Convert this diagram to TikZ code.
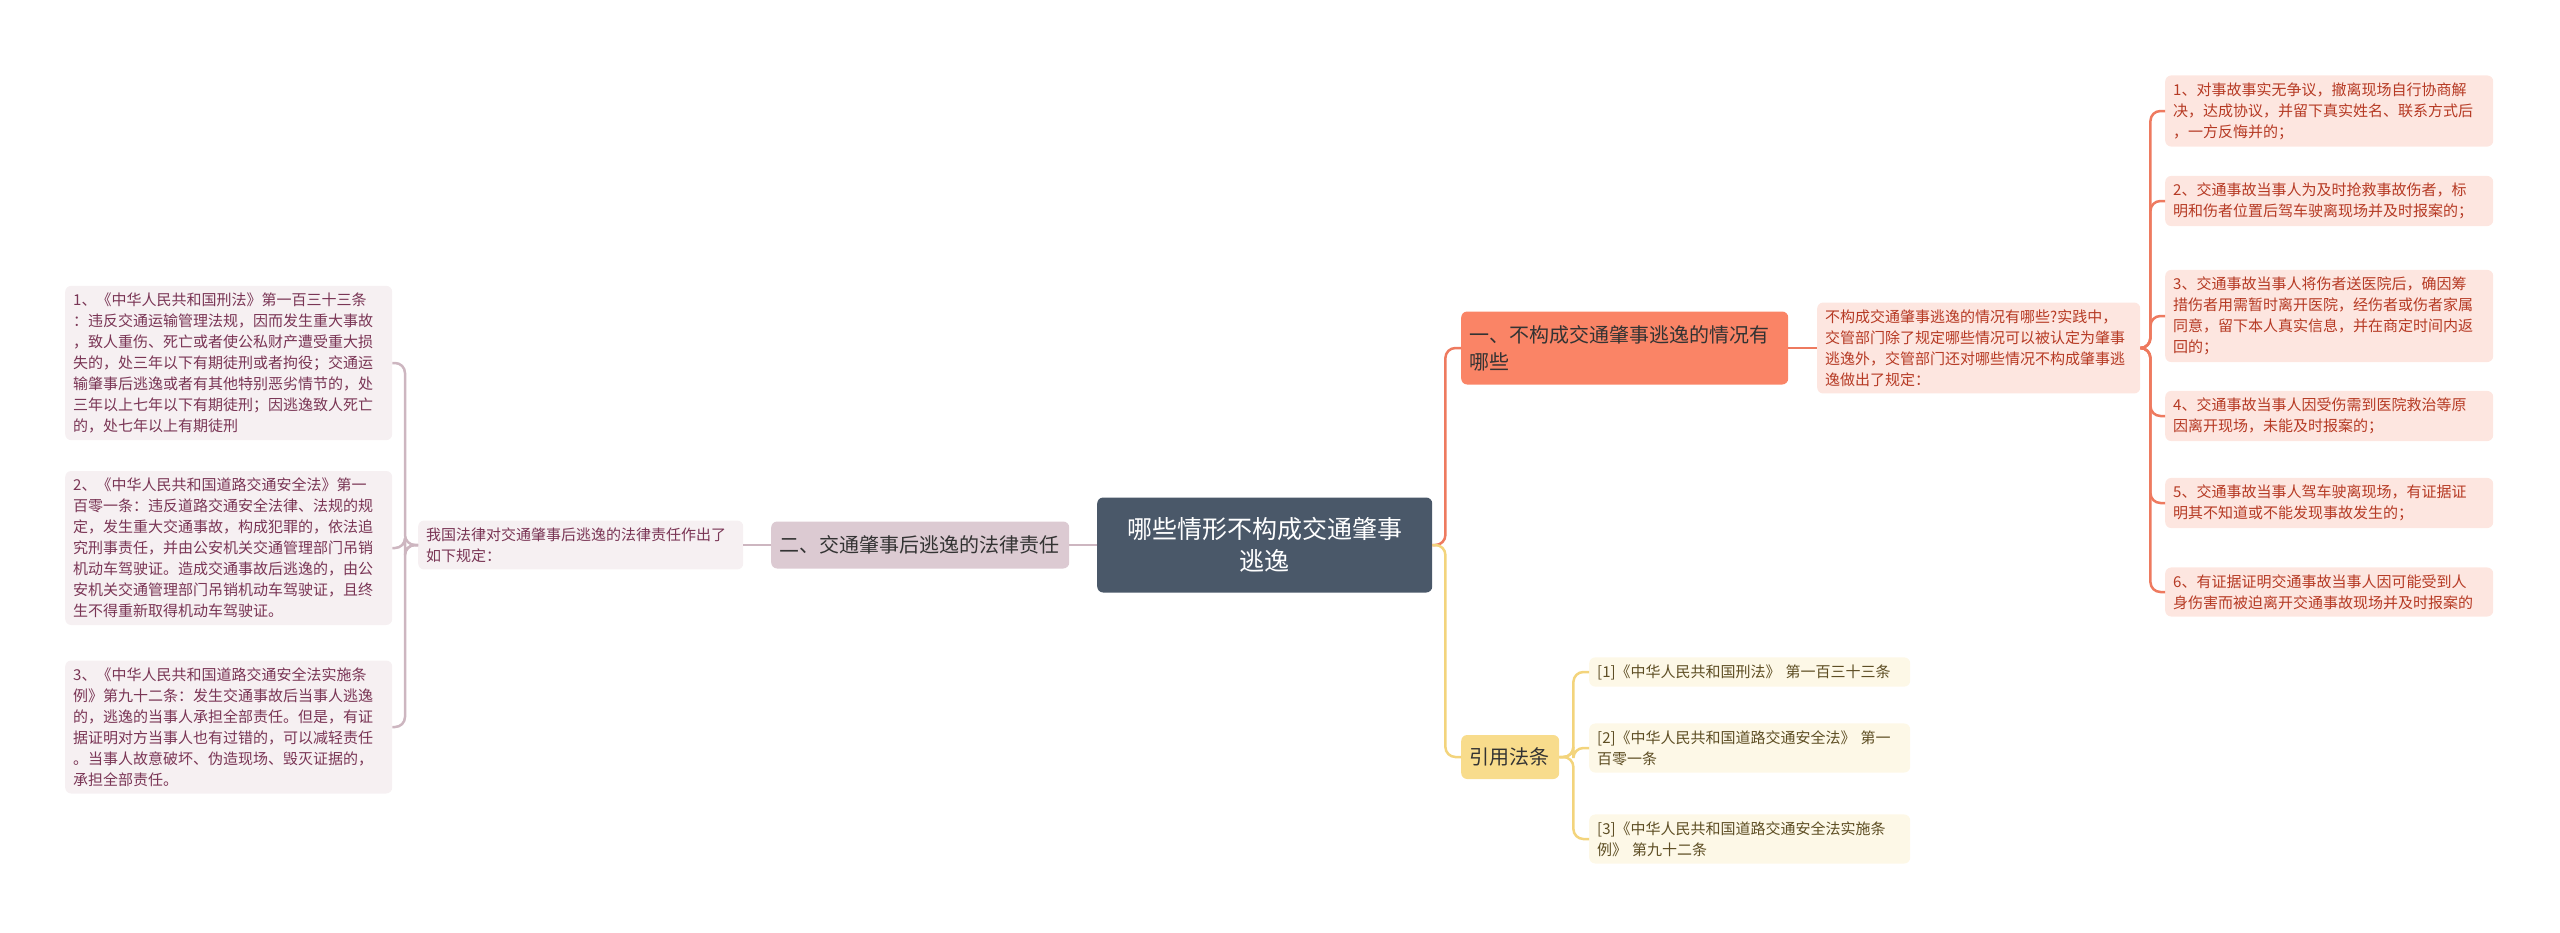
\documentclass[tikz,border=0pt]{standalone}
\usepackage{fontspec}
\setmainfont{Noto Sans CJK SC}
\usetikzlibrary{positioning}

\definecolor{rootfill}{HTML}{4A5869}
\definecolor{orfill}{HTML}{FA8466}
\definecolor{orline}{HTML}{EE7A5F}
\definecolor{orleaf}{HTML}{FDE6E0}
\definecolor{ortext}{HTML}{B63A24}
\definecolor{yefill}{HTML}{F8DC8C}
\definecolor{yeline}{HTML}{F3D47C}
\definecolor{yeleaf}{HTML}{FDF8E7}
\definecolor{yetext}{HTML}{5E4E24}
\definecolor{mafill}{HTML}{DCCAD2}
\definecolor{maline}{HTML}{CDB6C0}
\definecolor{maleaf}{HTML}{F6F0F2}
\definecolor{matext}{HTML}{7A3555}

\tikzset{
  box/.style={rounded corners=6pt, anchor=west, align=left, inner xsep=8pt, inner ysep=7pt},
  small/.style={font=\fontsize{15}{21}\selectfont},
  root/.style={box, fill=rootfill, text=white, align=center, text width=319pt,
    minimum height=95pt, font=\fontsize{25}{32}\selectfont},
  sideA/.style={box, fill=orfill, text=black!80, text width=311pt, minimum height=73pt,
    font=\fontsize{20}{27}\selectfont},
  sideB/.style={box, fill=yefill, text=black!80, text width=82pt, minimum height=44pt,
    font=\fontsize{20}{27}\selectfont},
  sideC/.style={box, fill=mafill, text=black!80, text width=282pt, minimum height=47pt,
    font=\fontsize{20}{27}\selectfont},
  leafA/.style={box, small, fill=orleaf, text=ortext, text width=312pt},
  leafB/.style={box, small, fill=yeleaf, text=yetext, text width=305pt},
  leafC/.style={box, small, fill=maleaf, text=matext, text width=311pt},
  link/.style={line width=2.5pt, rounded corners=10pt},
}

\begin{document}
\begin{tikzpicture}[x=1pt,y=-1pt]
\useasboundingbox (0,0) rectangle (2560,932);

% Root
\node[root] (root) at (1097,545) {哪些情形不构成交通肇事\\逃逸};

% Branch one
\node[sideA] (one) at (1461,348) {一、不构成交通肇事逃逸的情况有\\哪些};
\node[leafA, text width=307pt] (oned) at (1817,348) {不构成交通肇事逃逸的情况有哪些?实践中，\\交管部门除了规定哪些情况可以被认定为肇事\\逃逸外，交管部门还对哪些情况不构成肇事逃\\逸做出了规定：};
\node[leafA] (a1) at (2165,111) {1、对事故事实无争议，撤离现场自行协商解\\决，达成协议，并留下真实姓名、联系方式后\\，一方反悔并的；};
\node[leafA] (a2) at (2165,201) {2、交通事故当事人为及时抢救事故伤者，标\\明和伤者位置后驾车驶离现场并及时报案的；};
\node[leafA] (a3) at (2165,316) {3、交通事故当事人将伤者送医院后，确因筹\\措伤者用需暂时离开医院，经伤者或伤者家属\\同意，留下本人真实信息，并在商定时间内返\\回的；};
\node[leafA] (a4) at (2165,416) {4、交通事故当事人因受伤需到医院救治等原\\因离开现场，未能及时报案的；};
\node[leafA] (a5) at (2165,503) {5、交通事故当事人驾车驶离现场，有证据证\\明其不知道或不能发现事故发生的；};
\node[leafA] (a6) at (2165,592) {6、有证据证明交通事故当事人因可能受到人\\身伤害而被迫离开交通事故现场并及时报案的};

% Branch citations
\node[sideB] (two) at (1461,757) {引用法条};
\node[leafB] (b1) at (1589,672) {[1]《中华人民共和国刑法》 第一百三十三条};
\node[leafB] (b2) at (1589,748) {[2]《中华人民共和国道路交通安全法》 第一\\百零一条};
\node[leafB] (b3) at (1589,839) {[3]《中华人民共和国道路交通安全法实施条\\例》 第九十二条};

% Branch left
\node[sideC] (three) at (771,545) {二、交通肇事后逃逸的法律责任};
\node[leafC, text width=309pt] (threed) at (418,545) {我国法律对交通肇事后逃逸的法律责任作出了\\如下规定：};
\node[leafC] (c1) at (65,363) {1、《中华人民共和国刑法》第一百三十三条\\：违反交通运输管理法规，因而发生重大事故\\，致人重伤、死亡或者使公私财产遭受重大损\\失的，处三年以下有期徒刑或者拘役；交通运\\输肇事后逃逸或者有其他特别恶劣情节的，处\\三年以上七年以下有期徒刑；因逃逸致人死亡\\的，处七年以上有期徒刑};
\node[leafC] (c2) at (65,548) {2、《中华人民共和国道路交通安全法》第一\\百零一条：违反道路交通安全法律、法规的规\\定，发生重大交通事故，构成犯罪的，依法追\\究刑事责任，并由公安机关交通管理部门吊销\\机动车驾驶证。造成交通事故后逃逸的，由公\\安机关交通管理部门吊销机动车驾驶证，且终\\生不得重新取得机动车驾驶证。};
\node[leafC] (c3) at (65,727) {3、《中华人民共和国道路交通安全法实施条\\例》第九十二条：发生交通事故后当事人逃逸\\的，逃逸的当事人承担全部责任。但是，有证\\据证明对方当事人也有过错的，可以减轻责任\\。当事人故意破坏、伪造现场、毁灭证据的，\\承担全部责任。};

% Links
\draw[link, orline] (root.east) -- ++(13,0) |- (one.west);
\draw[link, yeline] (root.east) -- ++(13,0) |- (two.west);
\draw[link, maline] (root.west) -- (three.east);
\draw[link, orline] (one.east) -- (oned.west);
\foreach \n in {a1,a2,a3,a4,a5,a6}
  \draw[link, orline] (oned.east) -- ++(10,0) |- (\n.west);
\foreach \n in {b1,b2,b3}
  \draw[link, yeline] (two.east) -- ++(14,0) |- (\n.west);
\draw[link, maline] (three.west) -- (threed.east);
\foreach \n in {c1,c2,c3}
  \draw[link, maline] (threed.west) -- ++(-13,0) |- (\n.east);
\end{tikzpicture}
\end{document}
